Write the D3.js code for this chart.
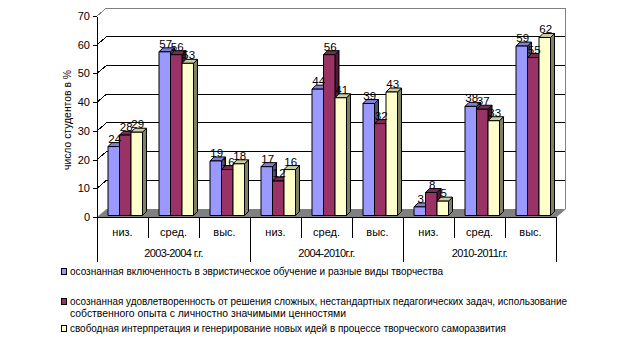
<!DOCTYPE html>
<html><head><meta charset="utf-8">
<script src="https://cdn.jsdelivr.net/npm/d3@7"></script>
<style>
html,body{margin:0;padding:0;background:#fff;}
svg text{font-family:"Liberation Sans",Arial,sans-serif;fill:#000;}
</style></head>
<body><svg id="c" width="624" height="356"></svg>
<script>
const groups = ["2003-2004 г.г.", "2004-2010г.г.", "2010-2011г.г."];
const levels = ["низ.", "сред.", "выс."];
const seriesNames = [
  "осознанная включенность в эвристическое обучение и разные виды творчества",
  "осознанная удовлетворенность от решения сложных, нестандартных педагогических задач, использование собственного опыта с личностно значимыми ценностями",
  "свободная интерпретация и генерирование новых идей в процессе творческого саморазвития"
];
const series1 = [24, 57, 19, 17, 44, 39, 3, 38, 59];
const series2 = [28, 56, 16, 12, 56, 32, 8, 37, 55];
const series3 = [29, 53, 18, 16, 41, 43, 5, 33, 62];
const yTicks = [0, 10, 20, 30, 40, 50, 60, 70];
const yTitle = "число студентов в %";

const allSeries = [series1, series2, series3];
const colors = [
  {front:"#9999FF", top:"#7f7fd6", side:"#4d4d80"},
  {front:"#993366", top:"#7a2952", side:"#4d1a33"},
  {front:"#FFFFCC", top:"#cccca3", side:"#808066"}
];

const svg = d3.select("#c");
const cats = [];
groups.forEach((g,gi)=>levels.forEach((l,li)=>cats.push({id:gi+"-"+li, g:gi, l:l})));

const x = d3.scaleBand().domain(cats.map(c=>c.id)).range([97, 556]).padding(0);
const inner = d3.scaleBand().domain([0,1,2]).range([11, 45.5]).padding(0);
const y = d3.scaleLinear().domain([0,70]).range([217, 16]);
const DX = 9.5, DY = -8;   // wall depth
const bdx = 4, bdy = -4;   // bar depth
const barBase = y(0) - 1.5;

// back wall
svg.append("rect").attr("x", 97+DX).attr("y", y(70)+DY)
  .attr("width", x.range()[1]-x.range()[0]).attr("height", y(0)-y(70))
  .attr("fill", "#fff");
// floor
svg.append("polygon")
  .attr("points", [[97,y(0)],[556,y(0)],[556+DX,y(0)+DY],[97+DX,y(0)+DY]].map(p=>p.join(",")).join(" "))
  .attr("fill", "#808080");
// gridlines
yTicks.filter(v=>v>0).forEach(v=>{
  svg.append("polyline")
    .attr("points", [[97,y(v)],[97+DX,y(v)+DY],[556+DX,y(v)+DY]].map(p=>p.join(",")).join(" "))
    .attr("fill","none").attr("stroke", v===70 ? "#808080" : "#000").attr("stroke-width",1)
    .attr("shape-rendering","crispEdges");
});
// back wall right border
svg.append("line").attr("x1",556+DX).attr("x2",556+DX).attr("y1",y(70)+DY).attr("y2",y(0)+DY)
  .attr("stroke","#808080");

// bars
cats.forEach((c,ci)=>{
  allSeries.forEach((s,si)=>{
    const v = s[ci];
    const x0 = x(c.id) + inner(si);
    const w = inner.bandwidth();
    const yt = barBase - (y(0) - y(v));
    const col = colors[si];
    const g = svg.append("g").attr("stroke","#000").attr("stroke-width",1).attr("stroke-linejoin","round");
    g.append("polygon").attr("points", [[x0+w,yt],[x0+w+bdx,yt+bdy],[x0+w+bdx,barBase+bdy],[x0+w,barBase]].map(p=>p.join(",")).join(" "))
      .attr("fill", col.side);
    g.append("polygon").attr("points", [[x0,yt],[x0+bdx,yt+bdy],[x0+w+bdx,yt+bdy],[x0+w,yt]].map(p=>p.join(",")).join(" "))
      .attr("fill", col.top);
    g.append("rect").attr("x",x0).attr("y",yt).attr("width",w).attr("height",barBase-yt).attr("fill",col.front);
  });
});
// labels
cats.forEach((c,ci)=>{
  allSeries.forEach((s,si)=>{
    const v = s[ci];
    const x0 = x(c.id) + inner(si);
    const yt = barBase - (y(0) - y(v));
    svg.append("text").attr("x", x0 + inner.bandwidth()/2 + 1).attr("y", yt - 4)
      .attr("text-anchor","middle").attr("font-size","11.5px").attr("fill","#222")
      .text(v);
  });
});

// y axis
const yAxis = d3.axisLeft(y).tickValues(yTicks).tickSize(4).tickSizeOuter(0).tickPadding(3);
const ga = svg.append("g").attr("transform","translate(97,0)").call(yAxis);
ga.select(".domain").attr("stroke","#000").attr("shape-rendering","crispEdges");
ga.selectAll(".tick line").attr("stroke","#000").attr("shape-rendering","crispEdges");
ga.selectAll(".tick text").attr("font-size","11px").attr("font-family","Liberation Sans, Arial, sans-serif").attr("fill","#000");

// y title
svg.append("text").attr("transform","translate(71,120) rotate(-90)")
  .attr("text-anchor","middle").attr("font-size","11px").attr("textLength",100).attr("lengthAdjust","spacingAndGlyphs")
  .text(yTitle);

// category axis
svg.append("line").attr("x1",97).attr("x2",556).attr("y1",y(0)).attr("y2",y(0))
  .attr("stroke","#000").attr("shape-rendering","crispEdges");
svg.append("line").attr("x1",556).attr("x2",556+DX).attr("y1",y(0)).attr("y2",y(0)+DY)
  .attr("stroke","#808080");
const bounds = d3.range(cats.length+1).map(i=> i<cats.length ? x(cats[i].id) : x.range()[1]);
bounds.forEach((bx,i)=>{
  svg.append("line").attr("x1",Math.round(bx)+0.5).attr("x2",Math.round(bx)+0.5)
    .attr("y1",y(0)).attr("y2", i%3===0 ? 262 : 238).attr("stroke","#000");
});
cats.forEach(c=>{
  svg.append("text").attr("x", x(c.id)+x.bandwidth()/2).attr("y",236)
    .attr("text-anchor","middle").attr("font-size","11px").text(c.l);
});
groups.forEach((g,gi)=>{
  const cx = (bounds[gi*3]+bounds[gi*3+3])/2;
  svg.append("text").attr("x", cx).attr("y",257).attr("text-anchor","middle")
    .attr("font-size","11px").attr("letter-spacing","-0.6px").text(g);
});

// legend
const legendLines = [
  {si:0, lines:[seriesNames[0]], y:[275], w:[373]},
  {si:1, lines:["осознанная удовлетворенность от решения сложных, нестандартных педагогических задач, использование","собственного опыта с личностно значимыми ценностями"], y:[305,317], w:[497,276]},
  {si:2, lines:[seriesNames[2]], y:[332], w:[436]}
];
legendLines.forEach(it=>{
  svg.append("rect").attr("x",61.5).attr("y",it.y[0]-6.5).attr("width",5).attr("height",6)
    .attr("fill",colors[it.si].front).attr("stroke","#000");
  it.lines.forEach((t,k)=>{
    svg.append("text").attr("x",70).attr("y",it.y[k]).attr("font-size","10.5px")
      .attr("textLength",it.w[k]).attr("lengthAdjust","spacingAndGlyphs").text(t);
  });
});
</script></body></html>
